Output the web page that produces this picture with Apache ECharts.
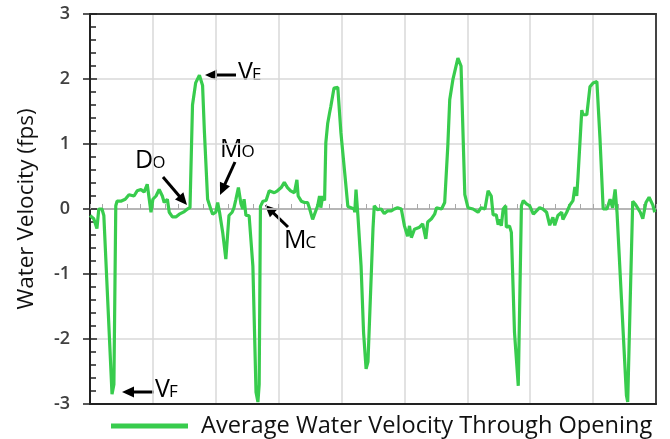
<!DOCTYPE html>
<html>
<head>
<meta charset="utf-8">
<script src="https://cdn.jsdelivr.net/npm/echarts@6/dist/echarts.min.js"></script>
<style>
  html, body { margin: 0; padding: 0; background: #fff; }
  #chart { width: 670px; height: 439px; }
</style>
</head>
<body>
<div id="chart"></div>
<script>
// time along the record (no labels shown on the x axis), grid every 10
var time = [
  0.0, 0.6, 1.1, 1.4, 1.9, 2.2, 3.5, 3.8, 4.1, 4.3, 4.9, 5.6, 6.2, 7.0, 7.5, 8.1, 8.6, 9.1, 9.4, 9.7,
  10.0, 10.5, 11.0, 11.5, 11.8, 12.3, 12.6, 13.1, 13.7, 14.2, 15.0, 15.5, 15.9, 16.3, 16.8, 17.4, 17.9, 18.2, 18.7, 19.2,
  19.5, 20.0, 20.3, 20.6, 21.1, 21.6, 22.1, 22.6, 22.9, 23.2, 23.6, 24.0, 24.3, 24.5, 24.8, 25.3, 25.9, 26.4, 26.7, 26.9,
  27.1, 27.5, 28.0, 28.5, 29.3, 29.8, 30.4, 30.9, 31.4, 31.9, 32.5, 32.9, 33.1, 33.6, 34.1, 34.6, 34.9, 35.4, 35.7, 36.2,
  36.5, 36.7, 37.0, 37.3, 37.5, 37.8, 38.1, 38.3, 38.8, 39.4, 39.9, 40.5, 41.0, 41.5, 42.0, 42.1, 42.3, 42.6, 43.1, 43.5,
  43.9, 44.2, 45.0, 45.2, 45.7, 46.3, 46.8, 47.3, 47.9, 48.4, 48.9, 49.5, 50.0, 50.5, 50.8, 51.1, 51.6, 52.4, 52.9, 53.4,
  53.7, 54.3, 54.8, 55.1, 55.9, 56.4, 56.9, 57.2, 57.7, 58.5, 59.0, 59.6, 60.1, 60.9, 61.7, 62.2, 62.8, 63.3, 63.8, 64.1,
  64.6, 64.9, 65.2, 65.4, 65.7, 66.1, 66.2, 66.7, 67.0, 67.5, 68.1, 68.3, 68.6, 68.9, 69.4, 69.9, 70.5, 71.0, 71.5, 72.0,
  72.6, 73.1, 73.6, 73.9, 74.4, 75.0, 75.2, 75.8, 76.3, 76.8, 77.1, 77.4, 77.6, 78.2, 78.4, 79.0, 79.5, 80.0, 80.6, 81.1,
  81.6, 82.2, 82.7, 83.1, 83.5, 83.8, 84.5, 85.3, 85.5, 85.9, 86.3, 86.8, 87.5, 87.9, 88.4, 88.9, 89.5, 89.8
];
// average water velocity through opening (fps)
var velocity = [
  -0.10, -0.15, -0.30, 0.00, 0.00, -0.10, -2.85, -2.70, 0.05, 0.12, 0.12, 0.15, 0.22, 0.20, 0.28, 0.30, 0.26, 0.38, 0.35, -0.05,
  0.15, 0.20, 0.30, 0.20, 0.10, 0.15, -0.05, -0.12, -0.12, -0.08, -0.04, 0.00, 0.02, 1.60, 1.94, 2.06, 1.90, 1.17, 0.15, 0.00,
  -0.08, -0.05, 0.10, -0.05, -0.36, -0.77, -0.10, -0.05, 0.02, 0.15, 0.33, 0.08, 0.00, 0.15, -0.10, -0.10, -0.88, -2.82, -2.97, -2.70,
  0.04, 0.12, 0.13, 0.28, 0.25, 0.28, 0.33, 0.41, 0.33, 0.28, 0.25, 0.45, 0.20, 0.12, 0.10, 0.10, 0.01, -0.16, -0.14, 0.05,
  0.20, 0.02, 0.20, 0.13, 1.02, 1.32, 1.48, 1.58, 1.86, 1.87, 1.17, 0.56, 0.04, 0.02, 0.00, -0.05, 0.30, -0.10, -0.87, -1.90,
  -2.46, -2.35, -0.30, 0.05, -0.01, 0.00, -0.07, -0.03, -0.03, 0.00, 0.02, 0.00, -0.26, -0.42, -0.26, -0.44, -0.31, -0.28, -0.23, -0.46,
  -0.20, -0.15, -0.08, 0.02, 0.00, 0.10, 0.98, 1.68, 1.99, 2.32, 2.20, 0.22, 0.02, 0.00, -0.05, 0.02, 0.00, 0.28, 0.20, -0.09,
  -0.09, -0.24, -0.16, -0.26, 0.00, 0.05, -0.28, -0.26, -0.36, -1.90, -2.72, -2.74, 0.05, 0.13, 0.08, 0.05, -0.08, -0.03, 0.02, 0.00,
  -0.05, -0.25, -0.13, -0.25, -0.10, -0.05, -0.16, -0.05, 0.06, 0.13, 0.34, 0.20, 0.50, 1.52, 1.45, 1.45, 1.88, 1.94, 1.96, 1.07,
  0.00, 0.00, 0.15, 0.02, 0.30, -0.05, -1.37, -2.87, -2.97, -1.40, 0.12, 0.06, -0.05, -0.15, 0.10, 0.18, 0.06, -0.05
];
var seriesName = 'Average Water Velocity Through Opening';

var chart = echarts.init(document.getElementById('chart'));
var FONT = 'Open Sans';
var measure = document.createElement('canvas').getContext('2d');

function arrow(x1, y1, x2, y2) {
  // tail (x1,y1) -> tip (x2,y2)
  var a = Math.atan2(y2 - y1, x2 - x1), L = 12, W = 5.5;
  var c = Math.cos(a), s = Math.sin(a);
  var bx = x2 - L * c, by = y2 - L * s;
  return [
    { type: 'line', shape: { x1: x1, y1: y1, x2: bx + 2 * c, y2: by + 2 * s }, style: { stroke: '#000', lineWidth: 3 } },
    { type: 'polygon', shape: { points: [[x2, y2], [bx - W * s, by + W * c], [bx + W * s, by - W * c]] }, style: { fill: '#000' } }
  ];
}
// big letter + smaller subscript-style capital, sharing one baseline
function label(big, small, x, base) {
  var fb = 25, fs = 17;
  measure.font = fb + 'px ' + FONT;
  var xs = x + measure.measureText(big).width - 1;
  return [
    { type: 'text', style: { text: big, x: x, y: base - 0.285 * fb, font: fb + 'px ' + FONT, fill: '#000', textVerticalAlign: 'middle' } },
    { type: 'text', style: { text: small, x: xs, y: base - 0.285 * fs, font: fs + 'px ' + FONT, fill: '#000', textVerticalAlign: 'middle' } }
  ];
}

var graphics = [].concat(
  arrow(236, 75, 205, 75), label('V', 'E', 238, 80),
  arrow(163, 177, 187, 205), label('D', 'O', 135, 168),
  arrow(235, 162, 220, 195), label('M', 'O', 220, 157),
  arrow(288, 227, 265, 205), label('M', 'C', 284, 248),
  arrow(154, 392, 122, 392), label('V', 'F', 155, 397)
);

var option = {
  animation: false,
  grid: { left: 90, right: 14, top: 14, bottom: 35 },
  legend: {
    data: [{ name: seriesName, icon: 'rect' }],
    left: 111, top: 414, padding: 0,
    itemWidth: 77, itemHeight: 5,
    textStyle: { fontFamily: FONT, fontSize: 23.6, color: '#111', padding: [0, 0, 0, 8] }
  },
  xAxis: [
    { // bottom frame + vertical grid
      type: 'value', min: 0, max: 90, interval: 10, position: 'bottom',
      axisLine: { onZero: false, lineStyle: { color: '#222', width: 2 } },
      axisTick: { show: false }, axisLabel: { show: false },
      splitLine: { lineStyle: { color: '#d9d9d9', width: 1.5 } }
    },
    { // top frame
      type: 'value', min: 0, max: 90, interval: 10, position: 'top',
      axisLine: { onZero: false, lineStyle: { color: '#333', width: 2 } },
      axisTick: { show: false }, axisLabel: { show: false }, splitLine: { show: false }
    },
    { // zero line with small ticks
      type: 'value', min: 0, max: 90, interval: 10, position: 'bottom',
      axisLine: { onZero: true, onZeroAxisIndex: 0, lineStyle: { color: '#a8a8a8', width: 1.5 } },
      axisTick: { show: true, inside: true, length: 5, lineStyle: { color: '#a8a8a8' } },
      minorTick: { show: true, splitNumber: 5, length: 5, lineStyle: { color: '#a8a8a8' } },
      axisLabel: { show: false }, splitLine: { show: false }
    }
  ],
  yAxis: [
    {
      type: 'value', min: -3, max: 3, interval: 1, position: 'left',
      name: 'Water Velocity (fps)', nameLocation: 'middle', nameGap: 52,
      nameTextStyle: { fontFamily: FONT, fontSize: 22.5, color: '#111' },
      axisLine: { onZero: false, lineStyle: { color: '#222', width: 2 } },
      axisTick: { show: true, inside: true, length: 7, lineStyle: { color: '#222', width: 1.5 } },
      minorTick: { show: true, splitNumber: 5, length: 6, lineStyle: { color: '#222', width: 1.5 } },
      axisLabel: { margin: 20, fontFamily: FONT, fontSize: 18, fontWeight: 600, color: '#404040' },
      splitLine: { lineStyle: { color: '#d9d9d9', width: 1.5 } }
    },
    { // outside half of the major ticks
      type: 'value', min: -3, max: 3, interval: 1, position: 'left',
      axisLine: { show: false, onZero: false },
      axisTick: { show: true, inside: false, length: 7, lineStyle: { color: '#222', width: 1.5 } },
      axisLabel: { show: false }, splitLine: { show: false }
    },
    { // right frame
      type: 'value', min: -3, max: 3, interval: 1, position: 'right',
      axisLine: { show: true, onZero: false, lineStyle: { color: '#444', width: 2 } },
      axisTick: { show: false }, axisLabel: { show: false }, splitLine: { show: false }
    }
  ],
  series: [{
    name: seriesName,
    type: 'line',
    xAxisIndex: 0, yAxisIndex: 0,
    data: time.map(function (t, i) { return [t, velocity[i]]; }),
    showSymbol: false,
    lineStyle: { color: '#38cc4d', width: 3.2 },
    itemStyle: { color: '#38cc4d' },
    z: 3
  }],
  graphic: graphics
};
chart.setOption(option);
</script>
</body>
</html>
